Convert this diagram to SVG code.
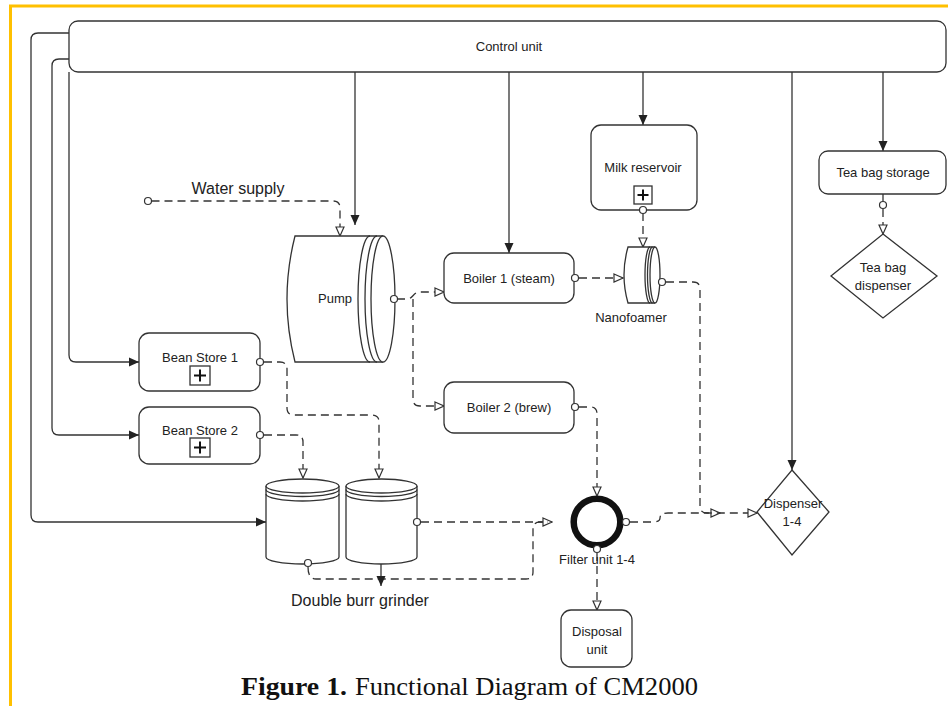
<svg xmlns="http://www.w3.org/2000/svg" width="948" height="706" viewBox="0 0 948 706">
  <style>
    .ln { fill: none; stroke: #333; stroke-width: 1.3; }
    .ds { fill: none; stroke: #333; stroke-width: 1.3; stroke-dasharray: 8 5; }
    .box { fill: #fff; stroke: #333; stroke-width: 1.3; }
    .port { fill: #fff; stroke: #333; stroke-width: 1.2; }
    .plus { fill: none; stroke: #111; stroke-width: 2; }
    .lbl { font-family: "Liberation Sans", Arial, sans-serif; font-size: 13px; fill: #222; text-anchor: middle; }
    .big { font-size: 16px; }
    .cap { font-family: "Liberation Serif", "Times New Roman", serif; font-size: 25px; fill: #111; }
  </style>
  <defs>
    <marker id="af" markerUnits="userSpaceOnUse" markerWidth="10" markerHeight="10" viewBox="0 0 10 10" refX="10" refY="5" orient="auto">
      <path d="M0,0.5 L10,5 L0,9.5 z" fill="#222"/>
    </marker>
    <marker id="ah" markerUnits="userSpaceOnUse" markerWidth="11" markerHeight="11" viewBox="0 0 11 11" refX="10" refY="5.5" orient="auto">
      <path d="M1,1.5 L10,5.5 L1,9.5 z" fill="#fff" stroke="#333" stroke-width="1.2" stroke-dasharray="none"/>
    </marker>
  </defs>

  <rect width="948" height="706" fill="#fff"/>
  <!-- page frame -->
  <path d="M10.5,706 L10.5,6 L948,6" fill="none" stroke="#FFC000" stroke-width="3"/>

  <!-- connectors -->
  <g id="connectors">
    <!-- control signals -->
    <path class="ln" d="M70,33 L38,33 Q31,33 31,40 L31,515 Q31,522 38,522 L266,522" marker-end="url(#af)"/>
    <path class="ln" d="M70,59 L59,59 Q52,59 52,66 L52,428 Q52,435 59,435 L139,435" marker-end="url(#af)"/>
    <path class="ln" d="M69,72 L69,355 Q69,362 76,362 L139,362" marker-end="url(#af)"/>
    <path class="ln" d="M355,72 L355,225" marker-end="url(#af)"/>
    <path class="ln" d="M509,72 L509,253" marker-end="url(#af)"/>
    <path class="ln" d="M643,72 L643,125" marker-end="url(#af)"/>
    <path class="ln" d="M792,72 L792,470" marker-end="url(#af)"/>
    <path class="ln" d="M883,72 L883,151" marker-end="url(#af)"/>

    <!-- water supply to pump -->
    <circle class="port" cx="148" cy="201" r="3.5"/>
    <path class="ds" d="M151.5,201 L333,201 Q340,201 340,208 L340,236" marker-end="url(#ah)"/>

    <!-- pump to boilers -->
    <path class="ds" d="M397,299 L407,299 C413,299 413,292 420,292 L444,292" marker-end="url(#ah)"/>
    <path class="ds" d="M413,299 L413,399 Q413,406 420,406 L444,406" marker-end="url(#ah)"/>

    <!-- boiler 1 to nanofoamer -->
    <path class="ds" d="M579,278 L623,278" marker-end="url(#ah)"/>
    <!-- milk to nanofoamer -->
    <path class="ds" d="M643,213 L643,247" marker-end="url(#ah)"/>
    <!-- nanofoamer to dispenser -->
    <path class="ds" d="M666,282 L693,282 Q700,282 700,289 L700,506 Q700,513 707,513 L720,513" marker-end="url(#ah)"/>
    <!-- filter to dispenser -->
    <path class="ds" d="M630,522 L653,522 Q660,522 660,518 Q660,513 668,513 L757,513" marker-end="url(#ah)"/>

    <!-- boiler 2 to filter -->
    <path class="ds" d="M579,407 L590,407 Q597,407 597,414 L597,496" marker-end="url(#ah)"/>

    <!-- bean stores to grinder -->
    <path class="ds" d="M264,362 L280,362 Q287,362 287,369 L287,408 Q287,415 294,415 L372,415 Q379,415 379,422 L379,478" marker-end="url(#ah)"/>
    <path class="ds" d="M264,435 L296,435 Q303,435 303,442 L303,478" marker-end="url(#ah)"/>

    <!-- grinder to filter -->
    <path class="ds" d="M421,522 L552,522" marker-end="url(#ah)"/>
    <path class="ds" d="M308,567 Q308,579 316,579 L526,579 Q533,579 533,572 L533,529 Q533,522 540,522 L548,522"/>
    <path class="ln" d="M381,564 L381,586" marker-end="url(#af)"/>

    <!-- filter to disposal -->
    <path class="ds" d="M597,553 L597,610" marker-end="url(#ah)"/>

    <!-- tea storage to tea dispenser -->
    <path class="ln" d="M883,194 L883,201"/>
    <path class="ds" d="M883,209 L883,234" marker-end="url(#ah)"/>
  </g>

  <!-- nodes -->
  <g id="control-unit">
    <rect class="box" x="69" y="21" width="877" height="51" rx="9"/>
    <text class="lbl" x="509" y="51">Control unit</text>
  </g>

  <g id="water-supply">
    <text class="lbl big" x="238" y="194">Water supply</text>
  </g>

  <g id="pump">
    <path class="box" d="M383,236 L295,236 Q279,299 295,362 L383,362"/>
    <ellipse class="box" cx="383" cy="299" rx="12" ry="63"/>
    <path class="ln" d="M377,236 A12,63 0 0 0 377,362"/>
    <path class="ln" d="M370,236 A12,63 0 0 0 370,362"/>
    <text class="lbl" x="335" y="303">Pump</text>
    <circle class="port" cx="394" cy="299" r="3.5"/>
  </g>

  <g id="boiler-1">
    <rect class="box" x="444" y="253" width="130" height="50" rx="10"/>
    <text class="lbl" x="509" y="283">Boiler 1 (steam)</text>
    <circle class="port" cx="575" cy="278" r="3.5"/>
  </g>

  <g id="boiler-2">
    <rect class="box" x="444" y="382" width="130" height="51" rx="10"/>
    <text class="lbl" x="509" y="412">Boiler 2 (brew)</text>
    <circle class="port" cx="575" cy="407" r="3.5"/>
  </g>

  <g id="milk-reservoir">
    <rect class="box" x="591" y="125" width="106" height="85" rx="10"/>
    <text class="lbl" x="643" y="172">Milk reservoir</text>
    <rect class="box" x="634" y="186" width="18" height="18" stroke-width="1.1"/>
    <path class="plus" d="M637.5,195 L648.5,195 M643,189.5 L643,200.5"/>
    <circle class="port" cx="643" cy="210" r="3.5"/>
  </g>

  <g id="nanofoamer">
    <path class="box" d="M655,247 L628,247 Q620,275 628,303 L655,303"/>
    <ellipse class="box" cx="655" cy="275" rx="5" ry="28"/>
    <path class="ln" d="M652.5,247 A5,28 0 0 0 652.5,303"/>
    <path class="ln" d="M650,247 A5,28 0 0 0 650,303"/>
    <circle class="port" cx="662" cy="282" r="3.5"/>
    <text class="lbl" x="631" y="322">Nanofoamer</text>
  </g>

  <g id="tea-bag-storage">
    <rect class="box" x="819" y="151" width="127" height="43" rx="9"/>
    <text class="lbl" x="883" y="177">Tea bag storage</text>
    <circle class="port" cx="883" cy="205" r="3.5"/>
  </g>

  <g id="tea-bag-dispenser">
    <path class="box" d="M883,234 L937,276 L883,318 L831,276 z"/>
    <text class="lbl" x="883" y="272">Tea bag</text>
    <text class="lbl" x="883" y="290">dispenser</text>
  </g>

  <g id="bean-store-1">
    <rect class="box" x="139" y="333" width="121" height="58" rx="10"/>
    <text class="lbl" x="200" y="362">Bean Store 1</text>
    <rect class="box" x="190" y="366" width="20" height="19" stroke-width="1.1"/>
    <path class="plus" d="M194,375.5 L206,375.5 M200,369.5 L200,381.5"/>
    <circle class="port" cx="260" cy="362" r="3.5"/>
  </g>

  <g id="bean-store-2">
    <rect class="box" x="139" y="407" width="121" height="57" rx="10"/>
    <text class="lbl" x="200" y="435">Bean Store 2</text>
    <rect class="box" x="190" y="438" width="20" height="19" stroke-width="1.1"/>
    <path class="plus" d="M194,447.5 L206,447.5 M200,441.5 L200,453.5"/>
    <circle class="port" cx="260" cy="435" r="3.5"/>
  </g>

  <g id="grinder">
    <!-- left burr -->
    <path class="box" d="M266,486 L266,557 A36.5,7 0 0 0 339,557 L339,486"/>
    <ellipse class="box" cx="302.5" cy="486" rx="36.5" ry="7"/>
    <path class="ln" d="M266,489.5 A36.5,7 0 0 0 339,489.5"/>
    <path class="ln" d="M266,494 A36.5,7 0 0 0 339,494"/>
    <circle class="port" cx="308" cy="563" r="3.5"/>
    <!-- right burr -->
    <path class="box" d="M346,486 L346,557 A35.5,7 0 0 0 417,557 L417,486"/>
    <ellipse class="box" cx="381.5" cy="486" rx="35.5" ry="7"/>
    <path class="ln" d="M346,489.5 A35.5,7 0 0 0 417,489.5"/>
    <path class="ln" d="M346,494 A35.5,7 0 0 0 417,494"/>
    <circle class="port" cx="417" cy="522" r="3.5"/>
    <text class="lbl big" x="360" y="606">Double burr grinder</text>
  </g>

  <g id="filter-unit">
    <circle cx="597" cy="522" r="23.3" fill="#fff" stroke="#111" stroke-width="6.5"/>
    <circle class="port" cx="626" cy="522" r="3.5"/>
    <circle class="port" cx="597" cy="549" r="3.5"/>
    <text class="lbl" x="597" y="564">Filter unit 1-4</text>
  </g>

  <g id="disposal-unit">
    <rect class="box" x="561" y="610" width="71" height="57" rx="10"/>
    <text class="lbl" x="597" y="636">Disposal</text>
    <text class="lbl" x="597" y="654">unit</text>
  </g>

  <g id="dispenser">
    <path class="box" d="M792,470 L829,512 L792,555 L757,512 z"/>
    <text class="lbl" x="793" y="508">Dispenser</text>
    <text class="lbl" x="792" y="526">1-4</text>
  </g>

  <!-- caption -->
  <text class="cap" x="241" y="695" font-weight="bold" textLength="106" lengthAdjust="spacingAndGlyphs">Figure 1.</text>
  <text class="cap" x="355" y="695" textLength="343" lengthAdjust="spacingAndGlyphs">Functional Diagram of CM2000</text>
</svg>
